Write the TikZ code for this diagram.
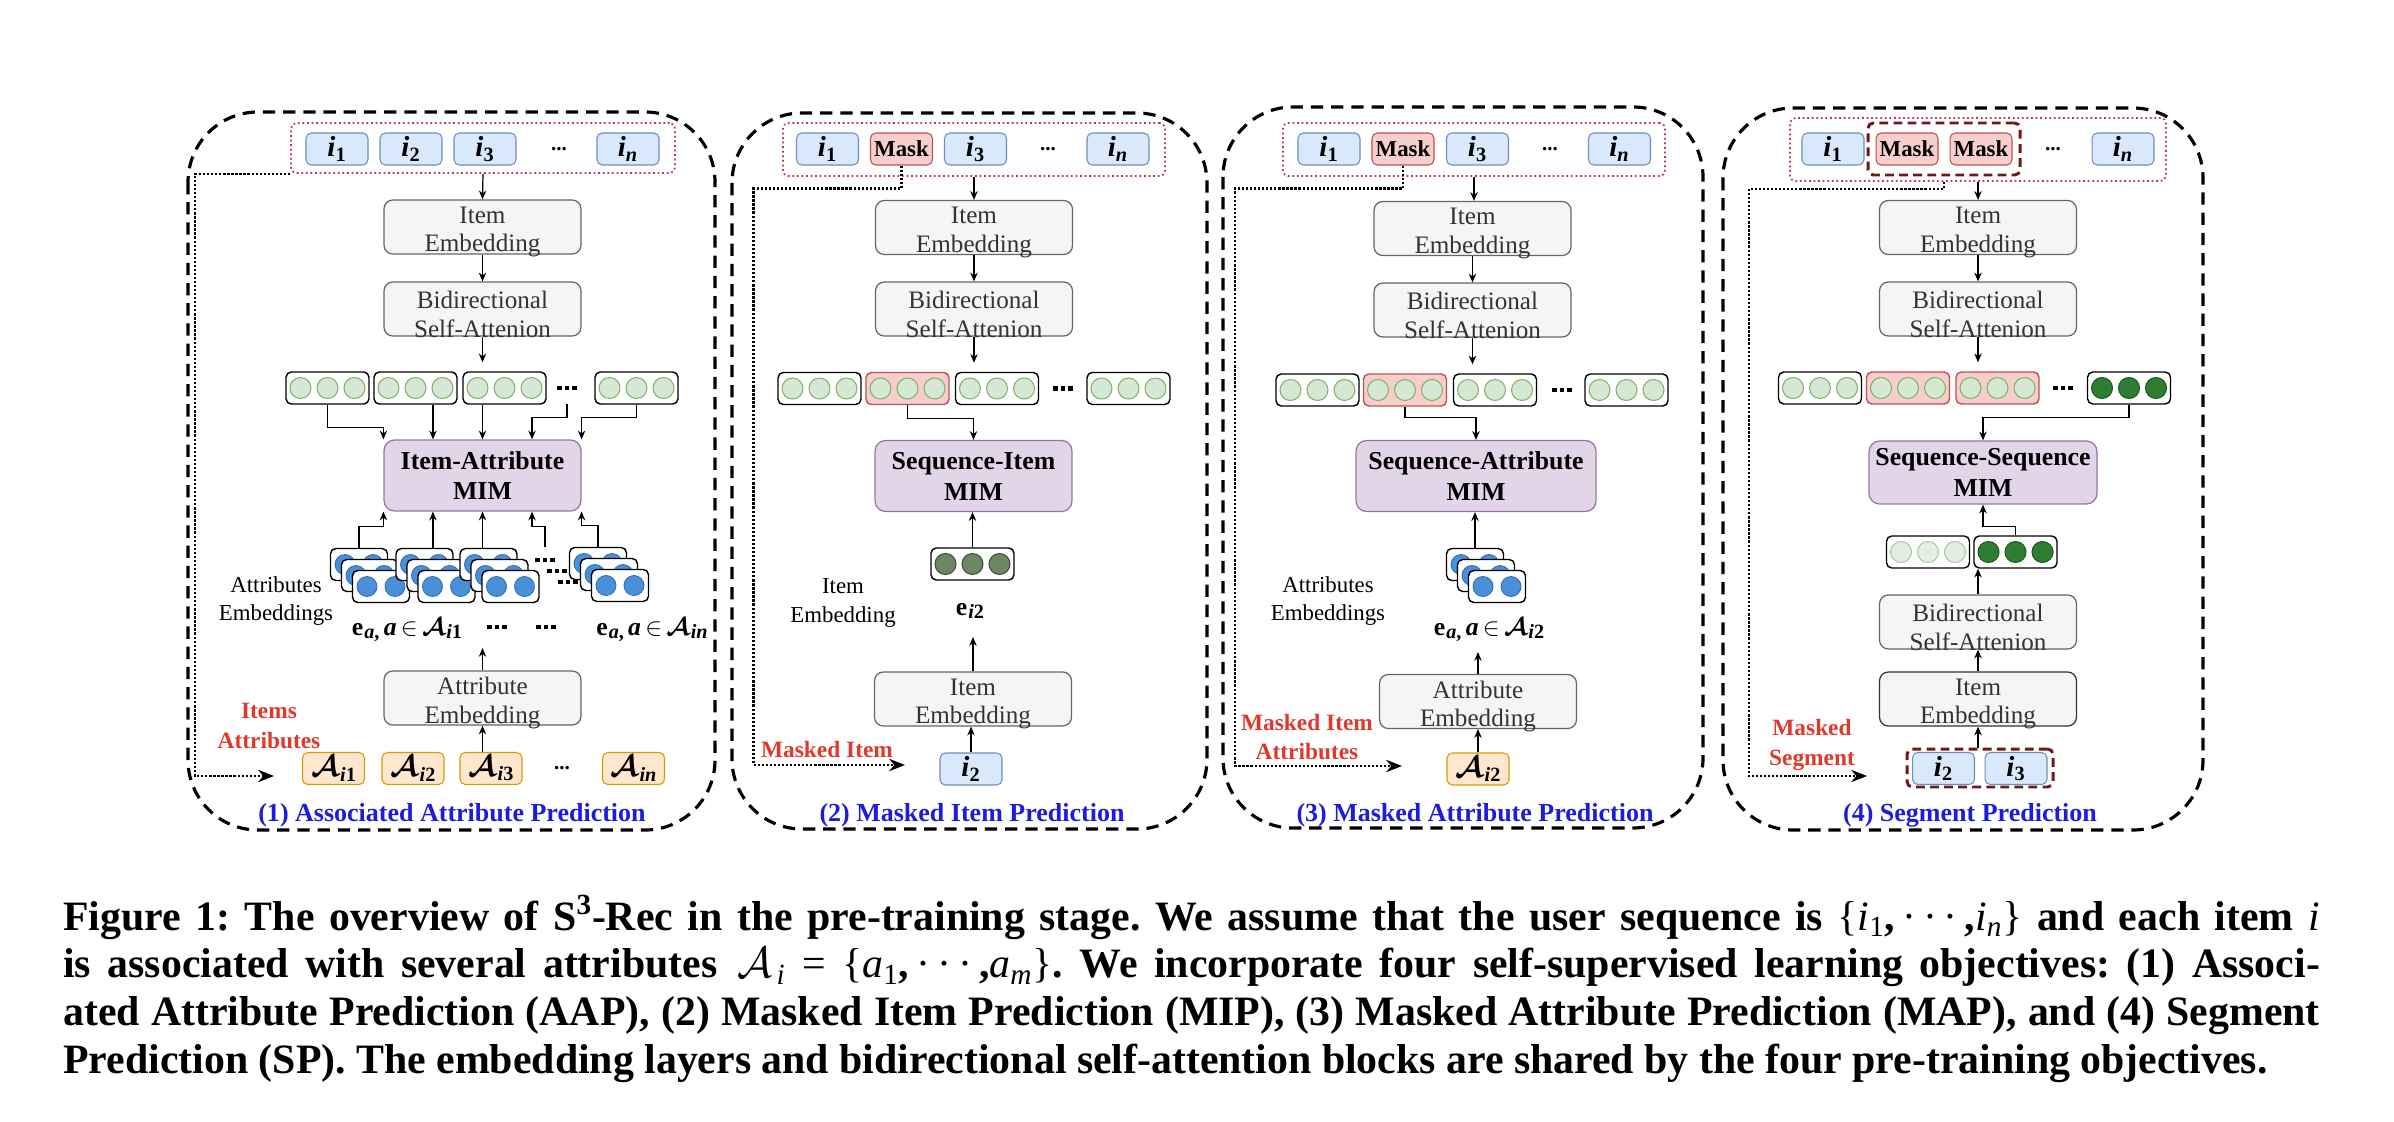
\documentclass[tikz,border=0pt]{standalone}
\usepackage{amsmath}
\usepackage{fontspec}
\setmainfont{Liberation Serif}
\newfontfamily\capfam{Liberation Serif}
\usetikzlibrary{arrows.meta,calc}

\definecolor{bfill}{HTML}{DAE8FC}\definecolor{bdraw}{HTML}{6C8EBF}
\definecolor{rfill}{HTML}{F8CECC}\definecolor{rdraw}{HTML}{B85450}
\definecolor{ofill}{HTML}{FFE6CC}\definecolor{odraw}{HTML}{D79B00}
\definecolor{gfill}{HTML}{F5F5F5}\definecolor{gdraw}{HTML}{666666}\definecolor{gtext}{HTML}{333333}
\definecolor{pfill}{HTML}{E1D5E7}\definecolor{pdraw}{HTML}{9673A6}
\definecolor{cfill}{HTML}{D5E8D4}\definecolor{cdraw}{HTML}{82B366}
\definecolor{lfill}{HTML}{E3F0E1}\definecolor{ldraw}{HTML}{A9CBA2}
\definecolor{olfill}{HTML}{6D8764}\definecolor{oldraw}{HTML}{3A5431}
\definecolor{dgfill}{HTML}{2E7D32}\definecolor{dgdraw}{HTML}{1B5E20}
\definecolor{blfill}{HTML}{4A90D9}\definecolor{bldraw}{HTML}{2F6DB5}
\definecolor{pinkd}{HTML}{C2306A}
\definecolor{darkred}{HTML}{701818}
\definecolor{redlab}{HTML}{E0392C}
\definecolor{titleblue}{HTML}{1C1CDC}

\newcommand\fItem{\fontsize{16.5}{18}\selectfont}
\newcommand\fMask{\fontsize{13}{15}\selectfont\bfseries}
\newcommand\fBox{\fontsize{14.3}{16.4}\selectfont}
\newcommand\fMim{\fontsize{14.7}{17.6}\selectfont\bfseries}
\newcommand\fTitle{\fontsize{14.8}{17}\selectfont\bfseries}
\newcommand\fSide{\fontsize{13}{16.4}\selectfont}
\newcommand\fRed{\fontsize{13.3}{17}\selectfont\bfseries}
\newcommand\fMath{\fontsize{14.6}{17}\selectfont\bfseries}

\newcommand\sbs[1]{\kern0.6pt\raisebox{-0.32ex}{\fontsize{11.5}{13}\selectfont\bfseries #1}}
\newcommand\iu[1]{\textbf{\textit{i}\textsubscript{\upshape #1}}}
\newcommand\iit[1]{\textbf{\textit{i}\textsubscript{\itshape #1}}}
\newcommand\Ai[1]{$\boldsymbol{\mathcal{A}}$\sbs{\textit{i}#1}}
\newcommand\ea[1]{\textbf{e}\sbs{\textit{a},}\,\textbf{\textit{a}}\,$\in$\,\Ai{#1}}
\newcommand\sqd{\rule{2.6pt}{2.6pt}\hspace{1.8pt}\rule{2.6pt}{2.6pt}\hspace{1.8pt}\rule{2.6pt}{2.6pt}}
% caption "math" in text fonts
\newcommand\cm[1]{{\mdseries\itshape #1}}
\newcommand\csb[1]{\textsubscript{\mdseries #1}}
\newcommand\cdt{{\mdseries\,\textperiodcentered\,\textperiodcentered\,\textperiodcentered\,}}
\newcommand\lb{{\mdseries\{}}
\newcommand\rb{{\mdseries\}}}

\tikzset{
  x=0.02cm, y=-0.02cm,
  panel/.style={draw=black, line width=1.8pt, dash pattern=on 7pt off 4.5pt, rounded corners=1.4cm},
  pinkbox/.style={draw=pinkd, line width=1pt, dash pattern=on 1pt off 1.6pt, rounded corners=3pt, inner sep=0pt},
  rdash/.style={draw=darkred, line width=1.7pt, dash pattern=on 5pt off 3pt, rounded corners=3pt, inner sep=0pt},
  itembox/.style={draw=bdraw, fill=bfill, rounded corners=3pt, line width=0.6pt, minimum width=1.24cm, minimum height=0.64cm, inner sep=0pt, font=\fItem},
  maskbox/.style={itembox, draw=rdraw, fill=rfill, font=\fMask},
  attrbox/.style={itembox, draw=odraw, fill=ofill},
  graybox/.style={draw=gdraw, fill=gfill, rounded corners=5pt, line width=0.7pt, minimum width=3.94cm, minimum height=1.08cm, inner sep=0pt},
  boxtext/.style={align=center, text=gtext, font=\fBox, inner sep=0pt},
  mimbox/.style={draw=pdraw, fill=pfill, rounded corners=6pt, line width=0.7pt, minimum width=3.94cm, minimum height=1.42cm, inner sep=0pt, align=center, font=\fMim},
  vecbox/.style={draw=black, fill=white, rounded corners=3pt, line width=0.8pt, minimum width=1.66cm, minimum height=0.64cm, inner sep=0pt},
  redvec/.style={draw=rdraw, fill=rfill},
  cir/.style={circle, minimum size=0.42cm, inner sep=0pt, line width=0.6pt, fill=cfill, draw=cdraw},
  lightc/.style={fill=lfill, draw=ldraw},
  olivec/.style={fill=olfill, draw=oldraw},
  dgc/.style={fill=dgfill, draw=dgdraw},
  sbox/.style={draw=black, fill=white, rounded corners=3pt, line width=0.8pt, minimum width=1.14cm, minimum height=0.64cm, inner sep=0pt},
  bcir/.style={circle, minimum size=0.40cm, inner sep=0pt, line width=0.5pt, fill=blfill, draw=bldraw},
  sqdots/.style={inner sep=0pt, minimum height=0.52cm},
  lowdots/.style={inner sep=0pt},
  idots/.style={inner sep=0pt, font=\fontsize{12}{14}\selectfont\bfseries},
  mathlab/.style={inner sep=0pt, font=\fMath},
  side/.style={align=center, inner sep=0pt, font=\fSide},
  redtxt/.style={align=center, inner sep=0pt, font=\fRed, text=redlab},
  title/.style={inner sep=0pt, font=\fTitle, text=titleblue, anchor=base},
  arr/.style={draw=black, line width=0.7pt, -{Stealth[length=5pt,width=4.2pt]}},
  dotarr/.style={draw=black, line width=1.3pt, dash pattern=on 1.3pt off 1pt, -{Stealth[length=9pt,width=7pt]}}
}

\newcommand\gbox[5][]{%
  \node[graybox,#1] (#2) at (#3,#4) {};
  \node[boxtext] (#2t) at (#3,{#4+5}) {#5};}
\newcommand\vrow[5]{%
  \node[vecbox,#4] (#1) at (#2,#3) {};
  \foreach \kk/\cc in {-1/a,0/b,1/c}{\node[cir,#5] (#1\cc) at ({#2+\kk*27},#3) {};}}
\newcommand\astack[3]{%
  \foreach \oo/\ll in {22/b,11/m,0/f}{%
    \node[sbox] (#1\ll) at ({#2-\oo},{#3-\oo}) {};
    \node[bcir] (#1\ll1) at ({#2-\oo-14},{#3-\oo}) {};
    \node[bcir] (#1\ll2) at ({#2-\oo+14},{#3-\oo}) {};}}

\begin{document}
\begin{tikzpicture}
\useasboundingbox (0,0) rectangle (2394,1122);

% panels
\draw[panel] (188,112) rectangle (715,830);
\draw[panel] (732,113) rectangle (1207,829);
\draw[panel] (1223,107) rectangle (1703,828);
\draw[panel] (1723,108) rectangle (2203,830);

%================ Panel 1 =================
\node[pinkbox, minimum width=7.68cm, minimum height=1.0cm] (pk1) at (483,148) {};
\node[itembox] (a11) at (337,149) {\iu{1}};
\node[itembox] (a12) at (411,149) {\iu{2}};
\node[itembox] (a13) at (485,149) {\iu{3}};
\node[idots] (id1) at (559,149) {...};
\node[itembox] (a1n) at (628,149) {\iit{n}};
\gbox{ie1}{482.5}{227}{Item\\Embedding}
\gbox{ba1}{482.5}{309}{Bidirectional\\Self-Attenion}
\vrow{v11}{327.5}{388}{}{}
\vrow{v12}{415.5}{388}{}{}
\vrow{v13}{504.5}{388}{}{}
\node[sqdots, minimum height=0.64cm] (dd1) at (567,388) {\sqd};
\vrow{v14}{636.5}{388}{}{}
\node[mimbox] (m1) at (482.5,475.5) {Item-Attribute\\MIM};
\coordinate (m1q1) at ($(m1.north west)!0.25!(m1.north east)$);
\coordinate (m1q3) at ($(m1.north west)!0.75!(m1.north east)$);
\coordinate (m1p1) at ($(m1.south west)!0.25!(m1.south east)$);
\coordinate (m1p3) at ($(m1.south west)!0.75!(m1.south east)$);
\astack{s1}{381}{586.5}
\astack{s2}{446.5}{586.5}
\astack{s3}{510.5}{586.5}
\node[sqdots] (ad1) at (545,560) {\sqd};
\node[sqdots] (ad2) at (557,571) {\sqd};
\node[sqdots] (ad3) at (568,582) {\sqd};
\astack{s4}{620}{585.5}
\node[side] (sl1) at (276,601) {Attributes\\Embeddings};
\node[mathlab, anchor=base] (ea1) at (407,635) {\ea{1}};
\node[lowdots] (md1) at (497,627) {\sqd};
\node[lowdots] (md2) at (546,627) {\sqd};
\node[mathlab, anchor=base] (ean) at (652,635) {\ea{\textit{n}}};
\gbox{ae1}{482.5}{698}{Attribute\\Embedding}
\coordinate (t1) at (482.5,648);
\node[attrbox] (A11) at (333.5,768.5) {\Ai{1}};
\node[attrbox] (A12) at (413,768.5) {\Ai{2}};
\node[attrbox] (A13) at (491,768.5) {\Ai{3}};
\node[idots] (id1b) at (562,768.5) {...};
\node[attrbox] (A1n) at (633.5,768.5) {\Ai{\textit{n}}};
\node[redtxt] (rl1) at (269,726) {Items\\Attributes};
\node[title] (T1) at (452,821) {(1) Associated Attribute Prediction};
\coordinate (d1) at (274,776);

\draw[arr] (pk1.south) -- (ie1.north);
\draw[arr] (ie1.south) -- (ba1.north);
\draw[arr, shorten >=0.18cm] (ba1.south) -- (ba1.south |- v13.north);
\draw[arr] (v11.south) -- ++(0,23) -| (m1.north west);
\draw[arr] (v12.south -| m1q1) -- (m1q1);
\draw[arr] (v13.south -| m1.north) -- (m1.north);
\draw[arr] (dd1.south) -- ++(0,13) -| (m1q3);
\draw[arr] (v14.south) -- ++(0,13) -| (m1.north east);
\draw[arr] (s1b.north) -- ++(0,-21) -| (m1.south west);
\draw[arr] (s2b.north -| m1p1) -- (m1p1);
\draw[arr] (s3b.north -| m1.south) -- (m1.south);
\draw[arr] (ad1.north) -- ++(0,-20) -| (m1p3);
\draw[arr] (s4b.north) -- ++(0,-21) -| (m1.south east);
\draw[arr] (ae1.north) -- (t1);
\draw[arr] (A13.north -| ae1.south) -- (ae1.south);
\draw[dotarr] (pk1.south west) -- ++(-95,0) |- (d1);

%================ Panel 2 =================
\node[pinkbox, minimum width=7.64cm, minimum height=1.06cm] (pk2) at (974,149.5) {};
\node[itembox] (a21) at (827.5,149) {\iu{1}};
\node[maskbox] (mk2) at (901.5,149) {Mask};
\node[itembox] (a23) at (975.5,149) {\iu{3}};
\node[idots] (id2) at (1048,149) {...};
\node[itembox] (a2n) at (1118,149) {\iit{n}};
\gbox{ie2}{974}{227.5}{Item\\Embedding}
\gbox{ba2}{974}{309}{Bidirectional\\Self-Attenion}
\vrow{v21}{819.5}{388.5}{}{}
\vrow{v22}{907.5}{388.5}{redvec}{}
\vrow{v23}{997}{388.5}{}{}
\node[sqdots, minimum height=0.64cm] (dd2) at (1063,388.5) {\sqd};
\vrow{v24}{1128.5}{388.5}{}{}
\node[mimbox] (m2) at (973.5,476) {Sequence-Item\\MIM};
\vrow{e2}{972.5}{564}{}{olivec}
\node[mathlab, anchor=base] (el2) at (970,615) {\textbf{e}\sbs{\textit{i}2}};
\node[side] (sl2) at (843,603) {Item\\Embedding};
\gbox{ie2b}{973}{699}{Item\\Embedding}
\coordinate (t2) at (973,637);
\node[itembox] (b22) at (971,769) {\iu{2}};
\node[redtxt, anchor=base] (rl2) at (827,757) {Masked Item};
\node[title] (T2) at (972,821) {(2) Masked Item Prediction};
\coordinate (d2) at (905,765);

\draw[arr] (pk2.south) -- (ie2.north);
\draw[arr] (ie2.south) -- (ba2.north);
\draw[arr, shorten >=0.18cm] (ba2.south) -- (ba2.south |- v23.north);
\draw[arr] (v22.south) -- ++(0,13) -| (m2.north);
\draw[arr] (e2.north) -- (e2.north |- m2.south);
\draw[arr] (ie2b.north) -- (t2);
\draw[arr] (b22.north) -- (b22.north |- ie2b.south);
\draw[dotarr] (mk2.south) -- ++(0,23) -- ++(-148,0) |- (d2);

%================ Panel 3 =================
\node[pinkbox, minimum width=7.64cm, minimum height=1.06cm] (pk3) at (1474,149.5) {};
\node[itembox] (a31) at (1329,149) {\iu{1}};
\node[maskbox] (mk3) at (1403,149) {Mask};
\node[itembox] (a33) at (1477.5,149) {\iu{3}};
\node[idots] (id3) at (1550,149) {...};
\node[itembox] (a3n) at (1619.5,149) {\iit{n}};
\gbox{ie3}{1472.5}{228.5}{Item\\Embedding}
\gbox{ba3}{1472.5}{310}{Bidirectional\\Self-Attenion}
\vrow{v31}{1317.5}{390}{}{}
\vrow{v32}{1405}{390}{redvec}{}
\vrow{v33}{1495}{390}{}{}
\node[sqdots, minimum height=0.64cm] (dd3) at (1562,390) {\sqd};
\vrow{v34}{1626.5}{390}{}{}
\node[mimbox, minimum width=4.8cm] (m3) at (1476,476) {Sequence-Attribute\\MIM};
\astack{s5}{1497}{586.5}
\node[mathlab, anchor=base] (ea3) at (1489,635) {\ea{2}};
\node[side] (sl3) at (1328,601) {Attributes\\Embeddings};
\gbox{ae3}{1478}{701.5}{Attribute\\Embedding}
\coordinate (t3) at (1478,652);
\node[attrbox] (A32) at (1478,769) {\Ai{2}};
\node[redtxt] (rl3) at (1307,737) {Masked Item\\Attributes};
\node[title] (T3) at (1475,821) {(3) Masked Attribute Prediction};
\coordinate (d3) at (1402,766);

\draw[arr] (pk3.south) -- (pk3.south |- ie3.north);
\draw[arr] (ie3.south) -- (ba3.north);
\draw[arr, shorten >=0.18cm] (ba3.south) -- (ba3.south |- v33.north);
\draw[arr] (v32.south) -- ++(0,11) -| (m3.north);
\draw[arr] (s5b.north) -- (s5b.north |- m3.south);
\draw[arr] (ae3.north) -- (t3);
\draw[arr] (A32.north) -- (A32.north |- ae3.south);
\draw[dotarr] (mk3.south) -- ++(0,23) -- ++(-168,0) |- (d3);

%================ Panel 4 =================
\node[pinkbox, minimum width=7.52cm, minimum height=1.26cm] (pk4) at (1978,149.5) {};
\node[itembox] (a41) at (1833,149) {\iu{1}};
\node[maskbox] (mk41) at (1907,149) {Mask};
\node[maskbox] (mk42) at (1981,149) {Mask};
\node[rdash, minimum width=3.04cm, minimum height=1.04cm] (rd4) at (1944,149) {};
\node[idots] (id4) at (2053,149) {...};
\node[itembox] (a4n) at (2123,149) {\iit{n}};
\gbox{ie4}{1978}{227.5}{Item\\Embedding}
\gbox{ba4}{1978}{309}{Bidirectional\\Self-Attenion}
\vrow{v41}{1820}{388}{}{}
\vrow{v42}{1908}{388}{redvec}{}
\vrow{v43}{1997.5}{388}{redvec}{}
\node[sqdots, minimum height=0.64cm] (dd4) at (2063,388) {\sqd};
\vrow{v44}{2129}{388}{}{dgc}
\node[mimbox, minimum width=4.56cm, minimum height=1.26cm] (m4) at (1983,472.5) {Sequence-Sequence\\MIM};
\vrow{vL}{1928}{552}{}{lightc}
\vrow{vR}{2015.5}{552}{}{dgc}
\gbox{ba4b}{1978}{622}{Bidirectional\\Self-Attenion}
\gbox[draw=black!80]{ie4b}{1978}{699}{Item\\Embedding}
\node[rdash, minimum width=2.92cm, minimum height=0.76cm] (rd4b) at (1980,768) {};
\node[itembox] (b42) at (1943.5,768.5) {\iu{2}};
\node[itembox] (b43) at (2016,768.5) {\iu{3}};
\node[redtxt] (rl4) at (1812,745) {Masked\\Segment};
\node[title] (T4) at (1970,821) {(4) Segment Prediction};
\coordinate (d4) at (1867,776);

\draw[arr] (pk4.south) -- (ie4.north);
\draw[arr] (ie4.south) -- (ba4.north);
\draw[arr, shorten >=0.18cm] (ba4.south) -- (ba4.south |- v43.north);
\draw[arr] (v44.south) -- ++(0,13) -| (m4.north);
\draw[arr] (vR.north) -- ++(0,-9) -| (m4.south);
\draw[arr] (ba4b.north) -- (ba4b.north |- vR.south);
\draw[arr] (ie4b.north) -- (ba4b.south);
\draw[arr] (rd4b.north -| ie4b.south) -- (ie4b.south);
\draw[dotarr] (pk4.south -| rd4.south) -- ++(0,7) -- ++(-195,0) |- (d4);

%================ Caption =================
\node[anchor=base west, inner sep=0pt] (cap) at (63,930) {\parbox[t]{45.14cm}{\capfam\bfseries\fontsize{23.8}{27.2}\selectfont\frenchspacing\hyphenpenalty=10000 \exhyphenpenalty=10000
Figure 1: The overview of S\textsuperscript{3}-Rec in the pre-training stage. We assume that the user sequence is \lb\cm{i}\csb{1},\cdt,\cm{i}\csb{\itshape n}\rb{} and each item \cm{i}\linebreak
is associated with several attributes\kern2pt{} $\mathcal{A}$\kern2.5pt\csb{\itshape i} {\mdseries =} \lb\cm{a}\csb{1},\cdt,\cm{a}\csb{\itshape m}\rb. We incorporate four self-supervised learning objectives: (1) Associ-\linebreak
ated Attribute Prediction (AAP), (2) Masked Item Prediction (MIP), (3) Masked Attribute Prediction (MAP), and (4) Segment\linebreak
Prediction (SP). The embedding layers and bidirectional self-attention blocks are shared by the four pre-training objectives.}};
\end{tikzpicture}
\end{document}
